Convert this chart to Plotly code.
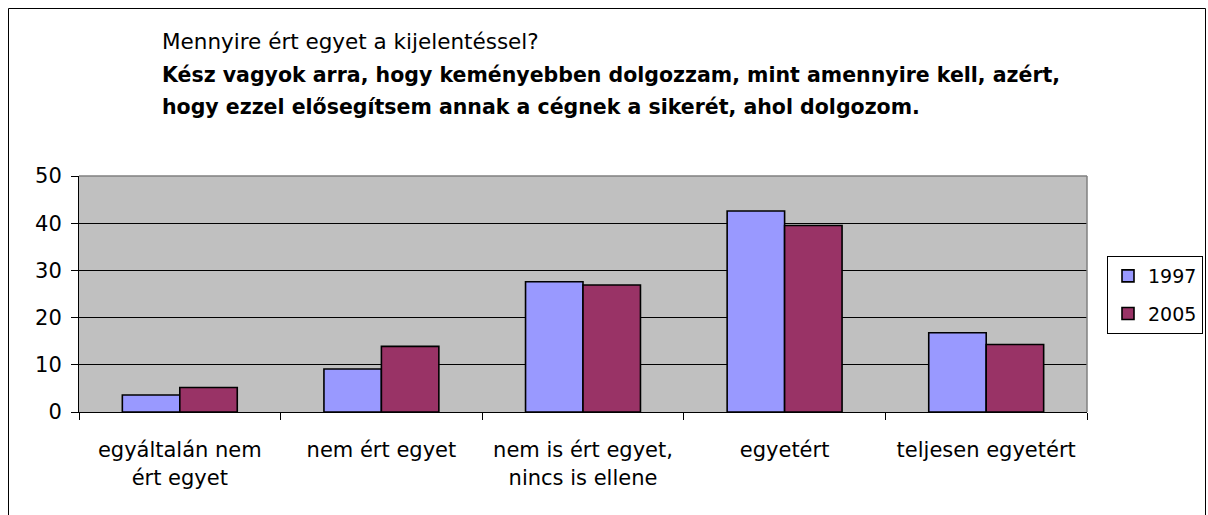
import plotly.graph_objects as go

# ----------------------
# Data
# ----------------------
categories = [
    "egyáltalán nem<br>ért egyet",
    "nem ért egyet",
    "nem is ért egyet,<br>nincs is ellene",
    "egyetért",
    "teljesen egyetért",
]
series_names = ["1997", "2005"]
values_1997 = [3.6, 9.1, 27.6, 42.6, 16.8]
values_2005 = [5.2, 13.9, 26.9, 39.5, 14.3]
y_ticks = [0, 10, 20, 30, 40, 50]

title_question = "Mennyire ért egyet a kijelentéssel?"
title_line1 = "Kész vagyok arra, hogy keményebben dolgozzam, mint amennyire kell, azért,"
title_line2 = "hogy ezzel elősegítsem annak a cégnek a sikerét, ahol dolgozom."

FONT = "DejaVu Sans"

# body margin is removed in the page (post_script), so figure = whole window
W, H = 1208, 515
# plot area edges in page pixels
PL, PR, PT, PB = 79, 1087, 176, 412
L, T, R, B = PL, PT, W - PR, H - PB
PW, PH = PR - PL, PB - PT


def px_x(x):
    return (x - PL) / PW


def px_y(y):
    return (PB - y) / PH


fig = go.Figure()
fig.add_trace(go.Bar(
    x=categories, y=values_1997, name=series_names[0], legendgroup="a",
    marker=dict(color="#9999FF", line=dict(color="black", width=1.6)),
))
fig.add_trace(go.Bar(
    x=categories, y=values_2005, name=series_names[1], legendgroup="b",
    marker=dict(color="#993366", line=dict(color="black", width=1.6)),
))

fig.update_layout(
    width=W, height=H,
    margin=dict(l=L, r=R, t=T, b=B, autoexpand=False),
    paper_bgcolor="white",
    plot_bgcolor="#C0C0C0",
    barmode="group",
    bargap=0.43,
    bargroupgap=0,
    font=dict(family=FONT, size=21, color="black"),
    showlegend=True,
    legend=dict(
        x=px_x(1203), y=px_y(256), xanchor="right", yanchor="top",
        bgcolor="white", bordercolor="black", borderwidth=1,
        font=dict(family=FONT, size=19, color="black"),
        tracegroupgap=10, itemwidth=30,
    ),
)

fig.update_xaxes(
    type="category",
    showline=True, linecolor="black", linewidth=1,
    ticks="outside", tickson="boundaries", ticklen=7, tickcolor="black",
    ticklabelstandoff=19,
    showgrid=False,
    tickfont=dict(family=FONT, size=21, color="black"),
)
fig.update_yaxes(
    range=[0, 50], tickvals=y_ticks,
    showline=True, linecolor="black", linewidth=1,
    ticks="outside", ticklen=7, tickcolor="black",
    ticklabelstandoff=5,
    showgrid=True, gridcolor="black", gridwidth=1,
    zeroline=False,
    tickfont=dict(family=FONT, size=21, color="black"),
)

# gray top/right edges of plot area
fig.add_shape(type="line", xref="paper", yref="paper", x0=0, x1=1, y0=1, y1=1,
              line=dict(color="#808080", width=1.5))
fig.add_shape(type="line", xref="paper", yref="paper", x0=1, x1=1, y0=0, y1=1,
              line=dict(color="#808080", width=1.5))

# outer chart frame
fig.add_shape(type="rect", xref="paper", yref="paper",
              x0=px_x(8.5), x1=px_x(1205.5), y0=px_y(530), y1=px_y(8.5),
              line=dict(color="black", width=1))

# title lines
fig.add_annotation(text=title_question, xref="paper", yref="paper",
                   x=px_x(160), y=px_y(41), xanchor="left", yanchor="middle",
                   showarrow=False, font=dict(family=FONT, size=21.5))
for txt, ypos in [(title_line1, 75), (title_line2, 107)]:
    fig.add_annotation(text="<b>" + txt + "</b>", xref="paper", yref="paper",
                       x=px_x(160), y=px_y(ypos), xanchor="left", yanchor="middle",
                       showarrow=False, font=dict(family=FONT, size=20.5))

fig.write_html(
    "out.html",
    config={"displayModeBar": False},
    post_script="document.body.style.margin='0';document.body.style.overflow='hidden';",
)
